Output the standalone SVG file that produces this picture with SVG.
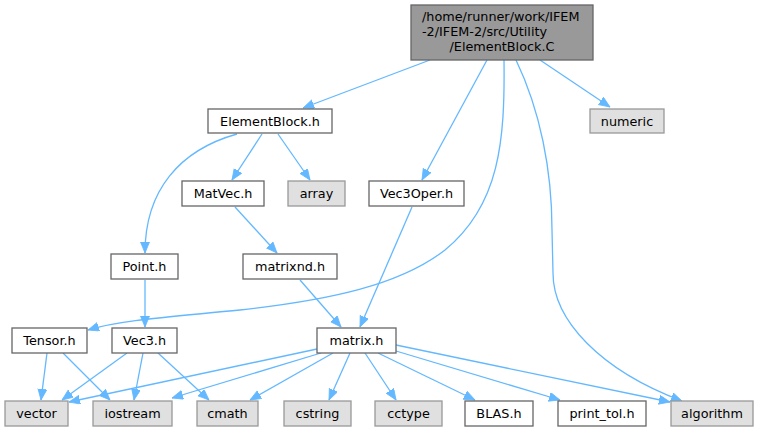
<svg xmlns="http://www.w3.org/2000/svg" width="761" height="432" viewBox="0 0 761 432">
<style>
.n rect{fill:#ffffff;stroke:#666666;stroke-width:1.3}
.g rect{fill:#e0e0e0;stroke:#999999;stroke-width:1.3}
.r rect{fill:#999999;stroke:#666666;stroke-width:1.3}
text{font-family:"DejaVu Sans","Liberation Sans",sans-serif;font-size:12.8px;fill:#000000;text-anchor:middle}
#edges path{fill:none;stroke:#63b8ff;stroke-width:1.3;marker-end:url(#ah)}
</style>
<defs>
<marker id="ah" markerUnits="userSpaceOnUse" markerWidth="11" markerHeight="10" refX="11" refY="4.5" orient="auto">
<path d="M0,0 L11,4.5 L0,9 z" fill="#63b8ff" stroke="#63b8ff" stroke-width="0.8"/>
</marker>
</defs>
<rect x="0" y="0" width="761" height="432" fill="#ffffff"/>
<g id="edges">
<path d="M430,60 L303,108"/>
<path d="M487,60 L422,180"/>
<path d="M504,60 C505,140 500,205 445,250 C400,285 330,300 240,310 C170,317 120,320 88,330"/>
<path d="M516,60 C540,110 552,170 552,230 L553,273 C553,320 600,370 682,401"/>
<path d="M540,60 L610,107"/>
<path d="M237,134 C180,150 145,190 145,253"/>
<path d="M262,134 L232,180"/>
<path d="M278,134 L310,180"/>
<path d="M235,207 L277,253"/>
<path d="M300,280 L341,327"/>
<path d="M412,207 L360,327"/>
<path d="M145,280 L145,327"/>
<path d="M47,353 L41,400"/>
<path d="M63,353 L110,400"/>
<path d="M127,353 L62,400"/>
<path d="M143,353 L134,400"/>
<path d="M158,353 L209,400"/>
<path d="M317,349 L69,402"/>
<path d="M321,353 L172,398"/>
<path d="M333,353 L250,400"/>
<path d="M350,353 L329,400"/>
<path d="M365,353 L396,400"/>
<path d="M378,353 L475,400"/>
<path d="M396,351 L560,400"/>
<path d="M396,345 L670,402"/>
</g>
<g id="root" class="r"><rect x="411" y="5" width="182" height="55"/>
<text x="422" y="21" style="text-anchor:start">/home/runner/work/IFEM</text>
<text x="422" y="36" style="text-anchor:start">-2/IFEM-2/src/Utility</text>
<text x="502" y="51">/ElementBlock.C</text></g>
<g id="ElementBlock_h" class="n"><rect x="208" y="109" width="124" height="24"/><text x="270" y="125.5">ElementBlock.h</text></g>
<g id="numeric" class="g"><rect x="590" y="109" width="74" height="24"/><text x="627" y="125.5">numeric</text></g>
<g id="MatVec_h" class="n"><rect x="182" y="181" width="82" height="25"/><text x="223" y="197.5">MatVec.h</text></g>
<g id="array" class="g"><rect x="288" y="181" width="57" height="25"/><text x="316.5" y="197.5">array</text></g>
<g id="Vec3Oper_h" class="n"><rect x="369" y="181" width="95" height="25"/><text x="416.5" y="197.5">Vec3Oper.h</text></g>
<g id="Point_h" class="n"><rect x="111" y="254" width="67" height="25"/><text x="144.5" y="270.5">Point.h</text></g>
<g id="matrixnd_h" class="n"><rect x="243" y="254" width="94" height="25"/><text x="290" y="270.5">matrixnd.h</text></g>
<g id="Tensor_h" class="n"><rect x="12" y="328" width="75" height="25"/><text x="49.5" y="344.5">Tensor.h</text></g>
<g id="Vec3_h" class="n"><rect x="112" y="328" width="65" height="25"/><text x="144.5" y="344.5">Vec3.h</text></g>
<g id="matrix_h" class="n"><rect x="317" y="328" width="79" height="25"/><text x="356.5" y="344.5">matrix.h</text></g>
<g id="vector" class="g"><rect x="5" y="401" width="63" height="25"/><text x="36.5" y="417.5">vector</text></g>
<g id="iostream" class="g"><rect x="93" y="401" width="79" height="25"/><text x="132.5" y="417.5">iostream</text></g>
<g id="cmath" class="g"><rect x="197" y="401" width="61" height="25"/><text x="227.5" y="417.5">cmath</text></g>
<g id="cstring" class="g"><rect x="284" y="401" width="67" height="25"/><text x="317.5" y="417.5">cstring</text></g>
<g id="cctype" class="g"><rect x="375" y="401" width="67" height="25"/><text x="408.5" y="417.5">cctype</text></g>
<g id="BLAS_h" class="n"><rect x="465" y="401" width="68" height="25"/><text x="499" y="417.5">BLAS.h</text></g>
<g id="print_tol_h" class="n"><rect x="558" y="401" width="88" height="25"/><text x="602" y="417.5">print_tol.h</text></g>
<g id="algorithm" class="g"><rect x="671" y="401" width="82" height="25"/><text x="712" y="417.5">algorithm</text></g>
</svg>
